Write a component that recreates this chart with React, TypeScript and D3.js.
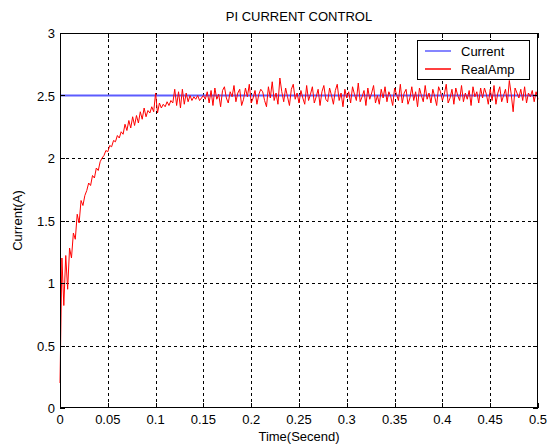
import React, { useRef, useEffect } from "react";
import * as d3 from "d3";

// sample step of the recorded signal (seconds)
const timeStep = 0.002;

// set point current
const currentValue = 2.5;

// measured amplifier current, one value per time step from 0 to 0.5 s
const realAmp = [
  0.2, 1.2, 0.82, 1.22, 0.95, 1.28, 1.2, 1.4, 1.35, 1.55, 1.48,
  1.66, 1.62, 1.7, 1.74, 1.8, 1.78, 1.86, 1.84, 1.92, 1.9,
  1.97, 2.0, 2.02, 2.06, 2.05, 2.1, 2.09, 2.14, 2.13, 2.18,
  2.16, 2.21, 2.19, 2.27, 2.22, 2.3, 2.24, 2.33, 2.26, 2.34,
  2.28, 2.37, 2.31, 2.4, 2.33, 2.38, 2.36, 2.41, 2.37, 2.52,
  2.36, 2.44, 2.4, 2.43, 2.41, 2.45, 2.42, 2.46, 2.44, 2.55,
  2.42, 2.53, 2.4, 2.55, 2.43, 2.52, 2.45, 2.5, 2.46, 2.49,
  2.47, 2.5, 2.46, 2.48, 2.5, 2.47, 2.53, 2.44, 2.54, 2.42,
  2.56, 2.47, 2.51, 2.41, 2.54, 2.57, 2.48, 2.44, 2.53, 2.49,
  2.58, 2.45, 2.52, 2.55, 2.42, 2.47, 2.56, 2.49, 2.59, 2.44,
  2.48, 2.54, 2.43, 2.51, 2.55, 2.53, 2.46, 2.41, 2.57, 2.48,
  2.61, 2.46, 2.52, 2.43, 2.64, 2.53, 2.45, 2.56, 2.49, 2.42,
  2.55, 2.59, 2.47, 2.52, 2.44, 2.54, 2.48, 2.43, 2.58, 2.46,
  2.51, 2.57, 2.44, 2.49, 2.55, 2.42, 2.53, 2.58, 2.47, 2.45,
  2.56, 2.5, 2.43, 2.54, 2.59, 2.46, 2.52, 2.41, 2.55, 2.48,
  2.53, 2.44, 2.57, 2.51, 2.46, 2.6, 2.45, 2.49, 2.54, 2.42,
  2.56, 2.47, 2.52, 2.58, 2.44, 2.5, 2.43, 2.55, 2.48, 2.57,
  2.45, 2.53, 2.49, 2.42, 2.56, 2.51, 2.46, 2.59, 2.44, 2.52,
  2.55, 2.43, 2.48, 2.57, 2.46, 2.53, 2.41, 2.56, 2.5, 2.45,
  2.58, 2.47, 2.52, 2.44, 2.55, 2.49, 2.42, 2.57, 2.53, 2.46,
  2.51, 2.59, 2.44, 2.48, 2.55, 2.43, 2.56, 2.5, 2.46, 2.58,
  2.45, 2.52, 2.47, 2.54, 2.42, 2.57, 2.49, 2.53, 2.44, 2.56,
  2.48, 2.56, 2.51, 2.43, 2.55, 2.46, 2.58, 2.43, 2.52, 2.57,
  2.45, 2.5, 2.55, 2.44, 2.62, 2.51, 2.37, 2.56, 2.52, 2.48,
  2.55, 2.46, 2.57, 2.44, 2.52, 2.49, 2.54, 2.45, 2.53, 2.47,
];

const xTicks = [0, 0.05, 0.1, 0.15, 0.2, 0.25, 0.3, 0.35, 0.4, 0.45, 0.5];
const yTicks = [0, 0.5, 1, 1.5, 2, 2.5, 3];

const legendItems = [
  { name: "Current", color: "#5c5cff" },
  { name: "RealAmp", color: "#ff0000" },
];

const App = () => {
  const svgRef = useRef<SVGSVGElement>(null);

  useEffect(() => {
    const width = 547,
      height = 448;
    const margin = { top: 33, right: 9, bottom: 40, left: 60 };

    const svg = d3.select(svgRef.current);
    svg.selectAll("*").remove();
    svg.attr("width", width).attr("height", height);

    const font = "Liberation Sans, Arial, Helvetica, sans-serif";
    const fontSize = 13;

    svg.append("rect").attr("width", width).attr("height", height).attr("fill", "#fff");

    const x = d3.scaleLinear().domain([0, 0.5]).range([margin.left, width - margin.right]);
    const y = d3.scaleLinear().domain([0, 3]).range([height - margin.bottom, margin.top]);

    const x0 = x(0), x1 = x(0.5), y0 = y(0), y1 = y(3);

    // grid
    const grid = svg.append("g").attr("stroke", "#000").attr("stroke-width", 1)
      .attr("stroke-dasharray", "3,3").attr("shape-rendering", "crispEdges");
    xTicks.slice(1, -1).forEach((t) => {
      grid.append("line").attr("x1", Math.round(x(t)) + 0.5).attr("x2", Math.round(x(t)) + 0.5)
        .attr("y1", y0).attr("y2", y1);
    });
    yTicks.slice(1, -1).forEach((t) => {
      grid.append("line").attr("y1", Math.round(y(t)) + 0.5).attr("y2", Math.round(y(t)) + 0.5)
        .attr("x1", x0).attr("x2", x1);
    });

    // lines
    const data = realAmp.map((v, i) => [i * timeStep, v] as [number, number]);
    const line = d3.line<[number, number]>().x((d) => x(d[0])).y((d) => y(d[1]));

    const cy = Math.round(y(currentValue)) + 0.5;
    svg.append("line").attr("x1", x0).attr("x2", x1)
      .attr("y1", cy).attr("y2", cy)
      .attr("stroke", legendItems[0].color).attr("stroke-width", 2);

    svg.append("path").datum(data).attr("d", line).attr("fill", "none")
      .attr("stroke", legendItems[1].color).attr("stroke-width", 1);

    // frame and ticks
    const frame = svg.append("g").attr("stroke", "#000").attr("shape-rendering", "crispEdges");
    frame.append("rect").attr("x", x0 + 0.5).attr("y", y1 + 0.5)
      .attr("width", x1 - x0 - 1).attr("height", y0 - y1 - 1).attr("fill", "none");
    xTicks.forEach((t) => {
      const px = Math.round(x(t)) + 0.5;
      frame.append("line").attr("x1", px).attr("x2", px).attr("y1", y0).attr("y2", y0 - 5);
      frame.append("line").attr("x1", px).attr("x2", px).attr("y1", y1).attr("y2", y1 + 5);
    });
    yTicks.forEach((t) => {
      const py = Math.round(y(t)) + 0.5;
      frame.append("line").attr("y1", py).attr("y2", py).attr("x1", x0).attr("x2", x0 + 5);
      frame.append("line").attr("y1", py).attr("y2", py).attr("x1", x1).attr("x2", x1 - 5);
    });

    // tick labels
    svg.append("g").selectAll("text").data(xTicks).enter().append("text")
      .attr("x", (d) => x(d)).attr("y", y0 + 16)
      .attr("text-anchor", "middle").attr("font-family", font).attr("font-size", fontSize)
      .text((d) => String(d));
    svg.append("g").selectAll("text").data(yTicks).enter().append("text")
      .attr("x", x0 - 5).attr("y", (d) => y(d) + 5)
      .attr("text-anchor", "end").attr("font-family", font).attr("font-size", fontSize)
      .text((d) => String(d));

    // titles
    svg.append("text").attr("x", (x0 + x1) / 2).attr("y", 21).attr("text-anchor", "middle")
      .attr("font-family", font).attr("font-size", fontSize).text("PI CURRENT CONTROL");
    svg.append("text").attr("x", (x0 + x1) / 2).attr("y", 441).attr("text-anchor", "middle")
      .attr("font-family", font).attr("font-size", fontSize).text("Time(Secend)");
    svg.append("text").attr("transform", `translate(22,${(y0 + y1) / 2}) rotate(-90)`)
      .attr("text-anchor", "middle").attr("font-family", font).attr("font-size", fontSize)
      .text("Current(A)");

    // legend
    const lg = svg.append("g");
    lg.append("rect").attr("x", 417.5).attr("y", 40.5).attr("width", 112).attr("height", 39)
      .attr("fill", "#fff").attr("stroke", "#000").attr("shape-rendering", "crispEdges");
    legendItems.forEach((it, i) => {
      const ly = 51 + i * 18;
      lg.append("line").attr("x1", 425).attr("x2", 451).attr("y1", ly).attr("y2", ly)
        .attr("stroke", it.color).attr("stroke-width", 1.5);
      lg.append("text").attr("x", 461).attr("y", ly + 4.5).attr("font-family", font)
        .attr("font-size", fontSize).text(it.name);
    });
  }, []);

  return (
    <div>
      <svg ref={svgRef} style={{ position: "absolute", left: 0, top: 0 }}></svg>
    </div>
  );
};

export default App;
